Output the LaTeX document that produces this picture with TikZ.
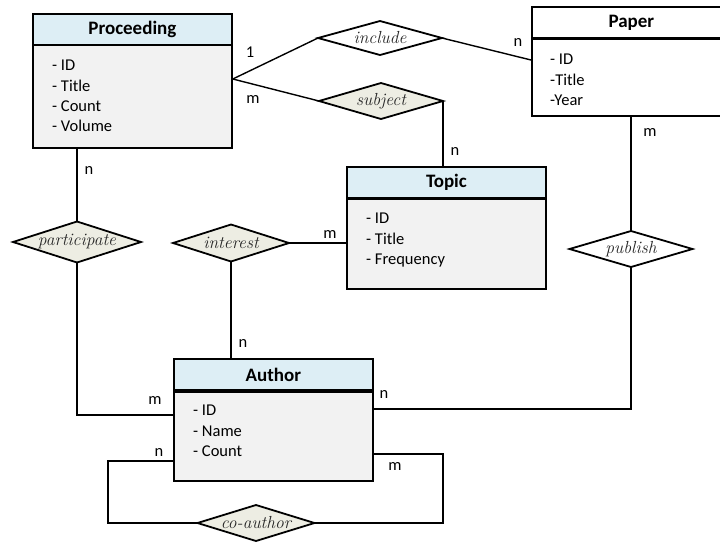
\documentclass[tikz,border=0pt]{standalone}
\usepackage{fontspec}
\newfontfamily\carl{Carlito}
\usetikzlibrary{shapes.geometric,calc}

\definecolor{hdrblue}{HTML}{DDEEF5}
\definecolor{bodygray}{HTML}{F2F2F2}
\definecolor{relfill}{HTML}{EDEDE3}
\definecolor{reltext}{HTML}{262626}

\tikzset{
  ent/.style={draw, line width=1.8pt, inner sep=0pt, anchor=north west, minimum width=199pt},
  hdr/.style={ent, fill=hdrblue, minimum height=31pt, font=\carl\bfseries\fontsize{19}{22}\selectfont},
  entbody/.style={ent, fill=bodygray},
  attrs/.style={anchor=north west, inner sep=0pt, align=left, font=\carl\fontsize{16.5}{20.3}\selectfont},
  rel/.style={diamond, draw, line width=1.8pt, inner sep=0pt, outer sep=0pt, fill=relfill},
  reltxt/.style={inner sep=0pt, text=reltext, font=\itshape\fontsize{17.5}{20}\selectfont},
  card/.style={inner sep=0pt, font=\carl\fontsize{16.5}{18}\selectfont},
  conn/.style={line width=1.4pt}
}

\begin{document}
\begin{tikzpicture}[x=1pt,y=-1pt]
\useasboundingbox (0,0) rectangle (720,542);

% ---- entities ----
\node[hdr] (procH) at (32,13) {Proceeding};
\node[entbody, minimum height=103pt] (procB) at (32,44) {};
\node[attrs] at (52,60) {- ID\\- Title\\- Count\\- Volume};

\node[hdr, fill=white] (papH) at (531,6) {Paper};
\node[entbody, fill=white, minimum height=77pt] (papB) at (531,38) {};
\node[attrs] at (550,54) {- ID\\-Title\\-Year};

\node[hdr] (topH) at (346,166) {Topic};
\node[entbody, minimum height=90pt] (topB) at (346,198) {};
\node[attrs] at (366,213) {- ID\\- Title\\- Frequency};

\node[hdr] (autH) at (173,358) {Author};
\node[entbody, minimum height=89pt] (autB) at (173,391) {};
\node[attrs] at (193,405) {- ID\\- Name\\- Count};

% ---- relationships ----
\node[rel, fill=white, minimum width=124pt, minimum height=34pt,
      label={[reltxt]center:include}] (incl) at (380,38) {};
\node[rel, minimum width=124pt, minimum height=36pt,
      label={[reltxt]center:subject}] (subj) at (381,101) {};
\node[rel, minimum width=128pt, minimum height=41pt,
      label={[reltxt]center:participate}] (part) at (77,242) {};
\node[rel, minimum width=116pt, minimum height=37pt,
      label={[reltxt]center:interest}] (intr) at (231,243) {};
\node[rel, fill=white, minimum width=123pt, minimum height=36pt,
      label={[reltxt]center:publish}] (publ) at (631,249) {};
\node[rel, minimum width=117pt, minimum height=36pt,
      label={[reltxt]center:co-author}] (coau) at (256,523) {};

% ---- connectors ----
\draw[conn] ($(procB.north east)+(0,35)$) -- (incl.west);
\draw[conn] ($(procB.north east)+(0,35)$) -- (subj.west);
\draw[conn] (incl.east) -- ($(papB.north west)+(0,22)$);
\draw[conn] (subj.east) -- (subj.east |- topH.north);
\draw[conn] (part.north |- procB.south) -- (part.north);
\draw[conn] (part.south) |- ($(autB.north west)+(0,24)$);
\draw[conn] (intr.east) -- (intr.east -| topB.west);
\draw[conn] (intr.south) -- (intr.south |- autH.north);
\draw[conn] (publ.north |- papB.south) -- (publ.north);
\draw[conn] (publ.south) |- ($(autB.north east)+(0,18)$);
\draw[conn] ($(autB.north west)+(0,70)$) -- ++(-65,0) |- (coau.west);
\draw[conn] ($(autB.north east)+(0,63)$) -- ++(69,0) |- (coau.east);

% ---- cardinalities ----
\node[card] at (250,52) {1};
\node[card] at (253,99) {m};
\node[card] at (518,42) {n};
\node[card] at (455,151) {n};
\node[card] at (89,170) {n};
\node[card] at (155,400) {m};
\node[card] at (330,234) {m};
\node[card] at (243,343) {n};
\node[card] at (650,132) {m};
\node[card] at (384,394) {n};
\node[card] at (159,452) {n};
\node[card] at (395,466) {m};
\end{tikzpicture}
\end{document}
